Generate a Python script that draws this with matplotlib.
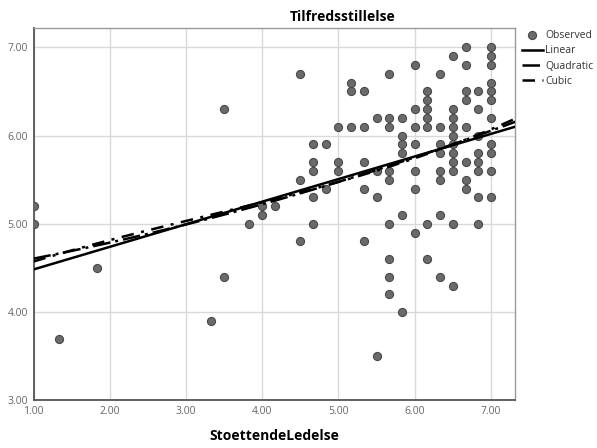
import matplotlib.pyplot as plt
import numpy as np

# StoettendeLedelse levels and the Tilfredsstillelse values observed at each
x_levels = [1.0, 1.333, 1.833, 3.333, 3.5, 3.833, 4.0, 4.167, 4.5, 4.667,
            4.833, 5.0, 5.167, 5.333, 5.5, 5.667, 5.833, 6.0, 6.167, 6.333,
            6.5, 6.667, 6.833, 7.0]
y_at_level = [
    [5.2, 5.0],
    [3.7],
    [4.5],
    [3.9],
    [6.3, 4.4],
    [5.0],
    [5.2, 5.1],
    [5.2],
    [6.7, 5.5, 4.8],
    [5.9, 5.7, 5.6, 5.3, 5.0],
    [5.9, 5.4],
    [6.1, 5.7, 5.6],
    [6.6, 6.5, 6.1],
    [6.5, 6.1, 5.7, 5.4, 4.8],
    [6.2, 5.6, 5.3, 3.5],
    [6.7, 6.2, 6.1, 5.6, 5.5, 5.0, 4.6, 4.4, 4.2],
    [6.2, 6.0, 5.9, 5.8, 5.1, 4.0],
    [6.8, 6.3, 6.1, 5.9, 5.6, 5.4, 4.9],
    [6.5, 6.4, 6.3, 6.2, 6.1, 5.0, 4.6],
    [6.7, 6.1, 5.9, 5.8, 5.6, 5.5, 5.1, 4.4],
    [6.9, 6.3, 6.2, 6.1, 6.0, 5.9, 5.8, 5.7, 5.6, 5.0, 4.3],
    [7.0, 6.8, 6.5, 6.4, 6.1, 5.7, 5.5, 5.4],
    [6.5, 6.3, 6.0, 5.8, 5.7, 5.6, 5.3, 5.0],
    [7.0, 6.9, 6.8, 6.6, 6.5, 6.4, 6.2, 5.9, 5.8, 5.6, 5.3],
]
x_ticks = [1, 2, 3, 4, 5, 6, 7]
y_ticks = [3, 4, 5, 6, 7]

x = np.concatenate([[lv] * len(ys) for lv, ys in zip(x_levels, y_at_level)])
y = np.concatenate(y_at_level)

plt.rcParams['font.family'] = ['Open Sans', 'DejaVu Sans']

W, H = 597, 448
fig = plt.figure(figsize=(W / 100, H / 100), dpi=100)
left, right, top, bottom = 33.5, 515.3, 28.3, 400.3
ax = fig.add_axes([left / W, 1 - bottom / H, (right - left) / W, (bottom - top) / H])

xmin, xmax = 1.0, 7.32
ax.set_xlim(xmin, xmax)
ax.set_ylim(3.0, 7.216)

ax.grid(True, color='#d9d9d9', linewidth=1)
ax.set_axisbelow(True)

ax.scatter(x, y, s=34, color='#6a6a6a', edgecolor='#4a4a4a', linewidth=0.8,
           zorder=3, label='Observed')

xs = np.linspace(xmin, xmax, 200)
fits = [
    (1, 'Linear', dict(linestyle='-')),
    (2, 'Quadratic', dict(linestyle=(0, (7, 2, 1.2, 2)))),
    (3, 'Cubic', dict(linestyle=(0, (5, 3, 1.2, 3)))),
]
for deg, name, style in fits:
    coef = np.polyfit(x, y, deg)
    ax.plot(xs, np.polyval(coef, xs), color='black', linewidth=1.8,
            zorder=4, label=name, **style)

ax.set_xticks(x_ticks)
ax.set_yticks(y_ticks)
ax.set_xticklabels([f'{v:.2f}' for v in x_ticks])
ax.set_yticklabels([f'{v:.2f}' for v in y_ticks])
ax.tick_params(length=0, labelsize=7.5, labelcolor='#666666', pad=4)

for side in ['top', 'right']:
    ax.spines[side].set_color('#9a9a9a')
    ax.spines[side].set_linewidth(1)
for side in ['left', 'bottom']:
    ax.spines[side].set_color('#555555')
    ax.spines[side].set_linewidth(1.3)

ax.set_xlabel('StoettendeLedelse', fontsize=10, fontweight='bold', labelpad=9)
fig.text(343 / W, 1 - 17 / H, 'Tilfredsstillelse', fontsize=10,
         fontweight='bold', ha='center', va='center')

leg = ax.legend(loc='upper left', bbox_to_anchor=(522 / W, 1 - 30 / H),
                bbox_transform=fig.transFigure, frameon=False, fontsize=7.5,
                handlelength=2.0, handletextpad=0.25, labelspacing=0.42,
                borderaxespad=0, borderpad=0)
for t in leg.get_texts():
    t.set_color('#333333')

fig.savefig('out.png', dpi=100)
